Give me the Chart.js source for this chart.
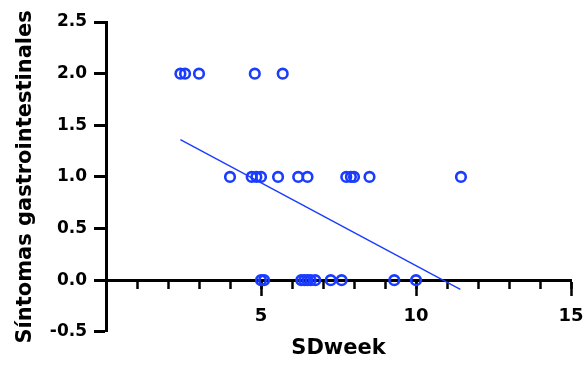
<!DOCTYPE html>
<html>
<head>
<meta charset="utf-8">
<script src="https://cdn.jsdelivr.net/npm/chart.js@4.4.0/dist/chart.umd.min.js"></script>
<style>
    html, body { margin: 0; padding: 0; background: #fff; }
    canvas { display: block; }
</style>
</head>
<body>
<canvas id="sdweek-chart" width="588" height="365"></canvas>
<script>
// observations: SD per week vs gastrointestinal symptom score
const sdweek = [
    2.4, 2.55, 3.0, 4.8, 5.7,
    4.0, 4.7, 4.85, 5.0, 5.55, 6.2, 6.5, 7.75, 7.9, 8.0, 8.5, 11.45,
    5.0, 5.1, 6.3, 6.4, 6.5, 6.6, 6.75, 7.25, 7.6, 9.3, 10.0
];
const sintomas = [
    2, 2, 2, 2, 2,
    1, 1, 1, 1, 1, 1, 1, 1, 1, 1, 1, 1,
    0, 0, 0, 0, 0, 0, 0, 0, 0, 0, 0
];

// fitted regression line end points
const fitX = [2.4, 11.43];
const fitY = [1.36, -0.09];

const yTicks = [-0.5, 0, 0.5, 1, 1.5, 2, 2.5];
const xMajorTicks = [5, 10, 15];

const blue = '#1a3cff';
const font = { family: 'DejaVu Sans', weight: 'bold' };

const points = sdweek.map((x, i) => ({ x: x, y: sintomas[i] }));
const fitLine = fitX.map((x, i) => ({ x: x, y: fitY[i] }));

// x axes sit on y = 0, so they take no room in the layout
const flatXAxis = scale => {
    scale.height = 0;
    scale.paddingLeft = 0;
    scale.paddingRight = 0;
};

const ctx = document.getElementById('sdweek-chart').getContext('2d');
new Chart(ctx, {
    type: 'scatter',
    data: {
        datasets: [{
            data: points,
            xAxisID: 'x',
            yAxisID: 'y',
            pointStyle: 'circle',
            pointRadius: 4.8,
            pointBorderWidth: 2.6,
            borderColor: blue,
            backgroundColor: 'transparent'
        }, {
            type: 'line',
            data: fitLine,
            xAxisID: 'x',
            yAxisID: 'y',
            borderColor: blue,
            borderWidth: 1.4,
            pointRadius: 0,
            fill: false
        }]
    },
    options: {
        responsive: false,
        animation: false,
        layout: {
            padding: { top: 22, right: 17, bottom: 0, left: 0 }
        },
        scales: {
            y: {
                type: 'linear',
                position: 'left',
                min: -0.5,
                max: 2.5,
                afterFit: scale => { scale.width = 106; },
                afterBuildTicks: scale => {
                    scale.ticks = yTicks.map(v => ({ value: v }));
                },
                border: { display: true, color: '#000', width: 3 },
                grid: {
                    drawOnChartArea: false,
                    drawTicks: true,
                    tickLength: 12,
                    tickWidth: 3,
                    tickColor: '#000'
                },
                ticks: {
                    padding: 7,
                    color: '#000',
                    font: { ...font, size: 17 },
                    callback: v => v.toFixed(1)
                },
                title: {
                    display: true,
                    text: 'Síntomas gastrointestinales',
                    color: '#000',
                    font: { ...font, size: 21 },
                    padding: { top: 13, bottom: 0 }
                }
            },
            // minor ticks every 1
            x: {
                type: 'linear',
                position: { y: 0 },
                min: 0,
                max: 15,
                afterFit: flatXAxis,
                border: { display: true, color: '#000', width: 3 },
                grid: {
                    drawOnChartArea: false,
                    drawTicks: true,
                    tickLength: 7,
                    tickWidth: 2.5,
                    tickColor: '#000'
                },
                ticks: {
                    stepSize: 1,
                    display: false
                }
            },
            // labelled major ticks
            x2: {
                type: 'linear',
                position: { y: 0 },
                min: 0,
                max: 15,
                afterFit: flatXAxis,
                afterBuildTicks: scale => {
                    scale.ticks = xMajorTicks.map(v => ({ value: v }));
                },
                border: { display: true, color: '#000', width: 3 },
                grid: {
                    drawOnChartArea: false,
                    drawTicks: true,
                    tickLength: 14,
                    tickWidth: 2.5,
                    tickColor: '#000'
                },
                ticks: {
                    padding: 11,
                    maxRotation: 0,
                    color: '#000',
                    font: { ...font, size: 18 }
                }
            }
        },
        plugins: {
            legend: { display: false },
            tooltip: { enabled: false },
            title: {
                display: true,
                text: 'SDweek',
                position: 'bottom',
                fullSize: false,
                color: '#000',
                font: { ...font, size: 21 },
                padding: { top: 4, bottom: 4 }
            }
        }
    }
});
</script>
</body>
</html>
